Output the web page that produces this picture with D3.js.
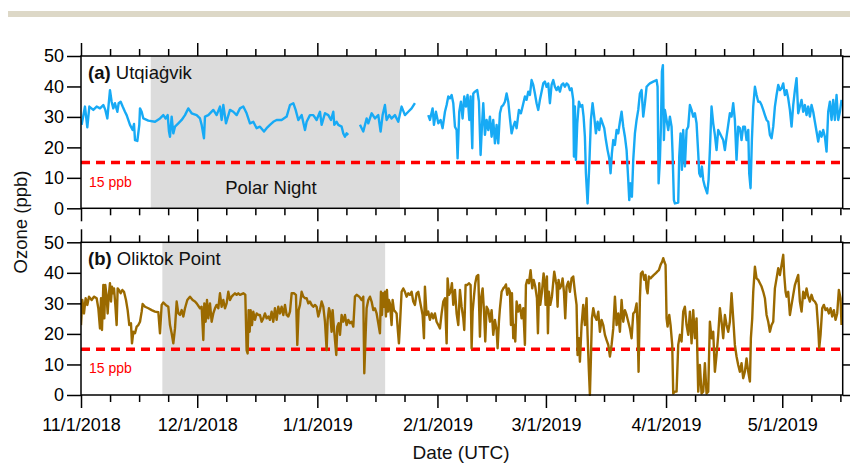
<!DOCTYPE html>
<html><head><meta charset="utf-8">
<script src="https://cdn.jsdelivr.net/npm/d3@7"></script>
<style>body{margin:0;background:#fff}svg{display:block}text{font-family:"Liberation Sans",Arial,sans-serif}</style>
</head><body><svg id="c" width="850" height="465"></svg>
<script>
// ---- data (days since 2018-11-01 00:00 UTC, ozone in ppb; null = gap) ----
const utqDay = [0.17,1.03,1.63,2.15,3.18,4.04,4.90,5.76,6.28,6.80,7.48,7.91,8.34,8.77,9.38,9.72,10.24,10.75,11.35,11.78,12.65,13.33,13.68,13.94,14.54,15.05,15.23,15.66,16.09,17.38,19.10,20.39,21.25,21.85,22.37,22.71,22.97,23.40,23.83,24.26,25.12,25.98,26.84,27.70,28.56,29.85,30.71,31.14,31.74,32.00,32.86,34.15,35.01,35.87,36.30,36.73,37.42,38.45,39.31,40.17,41.03,41.89,42.75,43.61,44.47,45.33,46.19,47.23,47.91,48.77,49.63,50.49,51.78,53.08,53.94,54.80,55.40,56.09,56.95,57.81,58.24,59.10,59.96,60.82,61.68,62.11,62.97,63.83,64.52,65.12,65.38,65.98,66.41,67.27,67.70,68.13,68.56,68.99,70.5,72.00,72.86,73.72,74.15,75.01,75.87,76.73,77.33,77.85,78.45,78.88,79.57,80.17,81.03,81.89,82.75,83.61,84.47,85.33,86.19,88.0,
89.63,90.06,90.75,91.10,91.61,92.22,92.82,93.33,93.94,94.37,94.80,95.23,95.66,96.09,96.52,96.95,97.20,97.63,98.06,98.49,98.92,99.35,99.78,100.22,100.56,100.99,101.25,101.68,102.28,102.71,103.14,103.48,103.83,104.26,104.69,105.12,105.55,105.98,106.41,106.84,107.27,107.70,108.13,108.56,108.99,109.42,109.85,110.28,110.71,111.14,111.57,112.00,112.43,113.03,113.55,113.98,114.58,115.01,115.44,115.87,116.30,116.73,117.16,117.59,118.02,118.45,118.88,119.31,119.74,120.17,120.60,121.03,121.46,121.89,122.32,122.75,123.18,123.61,124.04,124.47,124.90,125.33,125.76,126.19,126.62,127.05,127.23,127.48,127.74,128.09,128.52,128.95,129.38,129.72,130.06,130.32,130.75,131.18,131.61,132.04,132.47,132.90,133.33,133.76,134.19,134.62,135.05,135.48,135.91,136.34,136.69,137.03,137.38,137.81,138.24,138.67,139.10,139.53,139.96,140.39,140.82,141.25,141.51,141.85,142.19,142.54,142.97,143.40,143.83,144.26,144.69,145.12,145.55,145.98,146.41,146.84,147.70,148.56,148.82,149.08,149.42,149.68,149.94,150.19,150.45,150.71,151.14,151.57,152.00,152.43,152.69,153.03,153.29,154.15,154.41,154.75,155.10,155.44,155.87,156.30,156.73,157.16,157.59,158.02,158.45,158.88,159.31,159.57,159.91,160.26,160.60,161.03,161.63,161.98,162.32,162.75,163.18,163.61,164.04,164.47,164.90,165.33,165.76,166.19,166.62,167.05,167.48,167.91,168.34,168.77,169.20,169.63,170.06,170.49,170.92,171.35,171.78,172.22,172.47,172.82,173.16,173.51,173.94,174.37,174.80,175.23,175.66,176.09,176.52,176.95,177.38,177.81,178.24,178.67,179.10,179.53,179.96,180.39,180.82,181.25,181.68,182.11,182.54,182.97,183.40,183.83,184.26,184.69,185.12,185.55,185.98,186.41,186.84,187.27,187.70,188.13,188.56,188.99,189.42,189.85,190.28,190.71,191.14,191.57,192.00,192.43,192.86,193.29,193.72,194.15,194.58,195.01,195.44,195.87,196.30];
const utqPpb = [27.4,33.4,26.6,33.4,32.3,33.4,32.8,33.9,32.3,29.5,38.8,35.0,32.8,34.5,31.7,34.5,35.0,33.4,31.7,30.6,27.4,25.7,27.7,22.4,22.1,27.4,32.8,31.7,29.5,28.8,28.4,29.5,30.6,29.5,30.6,25.2,23.5,30.1,24.6,26.8,27.9,29.0,30.6,32.8,31.2,30.6,29.5,27.4,23.0,30.1,30.6,32.3,30.6,33.4,29.0,33.9,27.9,32.3,31.7,30.6,32.8,33.4,31.2,27.9,28.4,26.3,26.8,25.2,26.3,27.4,28.4,29.0,29.0,30.1,33.9,34.5,32.3,29.0,30.6,25.7,28.4,30.6,30.6,29.0,31.7,27.4,31.2,30.6,29.0,31.7,27.4,28.4,27.4,26.8,24.6,23.5,24.6,24.1,null,27.4,25.2,29.5,27.9,31.2,29.5,30.6,25.2,30.6,33.9,29.0,30.6,29.5,30.6,28.4,33.4,30.6,31.7,32.8,34.5,null,
30.6,29.0,32.8,27.4,31.7,27.9,29.0,26.3,31.7,33.9,36.7,36.1,37.2,34.5,26.8,25.7,16.4,31.7,35.0,29.5,36.7,33.4,37.2,29.0,36.7,19.7,37.7,38.3,38.8,35.0,17.5,26.8,34.5,24.1,29.0,25.7,30.1,23.5,29.0,21.3,27.4,21.3,31.2,33.4,33.9,35.0,37.7,35.0,29.5,24.6,26.8,28.4,26.3,32.3,31.2,33.4,36.7,35.6,38.3,37.2,42.1,40.5,37.7,34.5,32.3,35.6,38.3,41.0,41.6,39.9,41.0,34.5,40.5,42.1,39.9,38.8,39.9,38.3,40.5,41.0,39.9,41.0,40.5,38.8,39.4,35.6,17.0,33.4,15.9,27.9,35.0,33.4,33.9,30.1,23.5,11.5,1.6,13.7,29.0,34.5,30.1,24.6,28.4,25.7,29.5,27.9,26.3,22.4,19.1,16.4,11.5,18.1,22.4,20.8,25.7,24.6,28.4,31.7,26.8,23.5,19.1,9.3,2.7,8.2,3.8,15.9,24.6,29.0,32.3,37.7,38.8,30.1,34.5,39.9,40.5,41.0,41.6,42.1,39.9,8.2,15.9,26.8,44.9,47.0,22.4,32.3,29.0,25.7,30.1,26.8,18.1,2.7,1.6,1.9,17.0,24.6,12.6,25.7,13.7,25.7,26.8,33.9,32.3,30.1,31.2,27.9,18.1,11.5,10.4,13.7,9.3,7.1,4.9,9.3,19.1,33.4,27.9,24.1,19.1,25.7,24.6,23.5,22.4,19.1,23.5,27.4,31.2,30.1,34.5,29.0,15.9,26.8,26.3,22.4,26.8,26.8,22.4,25.7,11.5,6.6,22.4,33.4,39.9,37.2,35.0,35.0,33.9,32.3,30.6,29.0,28.4,24.1,23.0,26.8,33.4,37.2,40.5,38.8,39.4,41.0,37.2,38.8,36.1,32.3,26.8,33.9,38.8,42.7,31.2,33.4,35.6,31.7,33.9,30.6,33.4,30.1,33.9,31.7,28.4,25.2,21.9,25.2,23.5,25.7,23.5,18.6,31.7,35.0,29.0,35.6,29.0,37.2,29.0,31.7,35.6];

const oliDay = [0.00,0.34,0.77,1.20,1.63,2.06,2.75,3.35,4.04,4.47,4.90,5.16,5.42,5.76,6.02,6.28,6.62,6.88,7.14,7.48,7.74,8.00,8.26,8.52,8.86,9.20,9.46,9.81,10.24,10.67,11.10,11.61,12.04,12.47,12.90,13.16,13.51,13.94,14.37,14.80,15.23,15.66,15.91,16.52,17.38,18.24,19.10,19.96,20.39,20.82,21.25,21.85,22.54,22.97,23.40,23.83,24.26,24.69,25.12,25.55,25.98,26.41,26.84,27.44,28.13,28.82,29.42,29.85,30.71,31.14,31.57,31.83,32.17,32.52,32.86,33.29,33.72,34.15,34.58,35.01,35.44,35.87,36.30,36.73,37.16,37.59,38.02,38.45,38.88,39.31,39.74,40.17,40.60,41.03,41.89,42.41,42.75,43.01,43.27,43.53,43.78,44.13,44.47,44.90,45.33,45.76,46.19,46.62,47.05,47.48,47.91,48.34,48.77,49.20,49.63,50.06,50.49,50.92,51.35,51.78,52.22,52.65,53.08,53.51,53.94,54.37,54.97,55.48,55.83,56.17,56.52,56.95,57.38,57.81,58.24,58.67,59.10,59.53,59.96,60.39,60.82,61.25,61.68,62.11,62.54,62.97,63.40,63.66,64.00,64.26,64.69,64.95,65.29,65.63,65.89,66.15,66.49,66.84,67.27,67.70,68.13,68.56,68.99,69.42,69.85,70.28,70.71,71.14,71.83,72.43,72.86,73.12,73.46,73.72,74.15,74.58,75.01,75.44,75.87,76.30,76.73,77.16,77.42,77.68,77.94,78.19,78.45,78.71,78.97,79.23,79.48,79.74,80.17,80.43,80.77,81.12,81.46,81.81,82.06,82.32,82.75,83.18,83.61,84.04,84.47,84.90,85.33,85.76,86.19,86.62,87.05,
88.17,88.52,88.77,89.20,89.63,90.06,90.49,90.92,91.35,91.78,92.22,92.65,93.08,93.51,93.94,94.37,94.62,94.97,95.40,95.74,96.09,96.52,96.95,97.38,97.81,98.24,98.67,98.92,99.27,99.70,100.13,100.56,100.82,101.08,101.42,101.76,102.11,102.54,102.97,103.31,103.66,104.00,104.34,104.69,105.12,105.55,105.98,106.41,106.84,107.27,107.53,107.87,108.13,108.56,108.99,109.42,109.68,110.02,110.37,110.71,110.97,111.23,111.57,111.83,112.09,112.43,112.86,113.29,113.72,114.15,114.58,114.84,115.18,115.61,116.04,116.47,116.82,117.25,117.68,117.94,118.28,118.54,118.97,119.40,119.66,119.91,120.26,120.52,120.77,121.12,121.55,121.98,122.15,122.58,122.75,123.01,123.27,123.61,124.04,124.30,124.65,124.99,125.33,125.76,126.19,126.62,127.05,127.48,127.91,128.17,128.52,128.77,129.20,129.63,130.06,130.49,130.75,131.10,131.35,131.61,131.87,132.22,132.65,133.08,133.51,133.94,134.37,134.80,135.23,135.66,136.09,136.52,136.95,137.38,137.81,138.24,138.67,139.10,139.53,139.96,140.39,140.82,141.25,141.68,142.11,142.54,142.97,143.40,143.66,143.91,144.26,144.52,144.95,145.38,145.72,145.98,146.24,146.58,147.01,147.44,147.87,148.30,148.73,149.16,149.59,150.02,150.28,150.54,150.88,151.14,151.40,151.83,152.17,152.60,152.86,153.29,153.72,154.15,154.58,155.01,155.44,155.87,156.30,156.73,157.16,157.59,158.02,158.45,158.88,159.31,159.74,160.17,160.60,161.03,161.46,161.89,162.32,162.75,163.18,163.61,164.04,164.47,164.90,165.33,165.76,166.19,166.62,167.05,167.48,167.91,168.34,168.77,169.20,169.63,170.06,170.49,170.92,171.35,171.78,172.22,172.65,172.90,173.25,173.51,173.94,174.37,174.80,175.23,175.66,176.09,176.52,176.95,177.38,177.81,178.24,178.67,179.10,179.53,179.96,180.39,180.82,181.25,181.51,181.85,182.11,182.54,182.97,183.40,183.83,184.26,184.69,185.12,185.55,185.98,186.41,186.84,187.27,187.70,188.13,188.56,188.99,189.42,189.85,190.28,190.54,190.88,191.31,191.74,192.17,192.60,193.03,193.46,193.89,194.32,194.75,195.18,195.61,196.04,196.30];
const oliPpb = [22.9,31.1,26.7,31.7,29.5,32.2,31.1,32.2,31.7,28.4,21.8,31.7,21.3,36.0,25.1,36.0,32.2,26.7,32.2,36.6,30.6,35.5,33.3,34.9,29.5,22.9,34.9,34.4,33.3,34.4,33.8,31.1,27.8,22.9,23.5,16.9,20.7,20.2,22.4,22.9,24.0,27.3,29.8,28.9,28.4,27.8,27.3,27.1,20.2,29.5,30.3,29.5,28.9,22.9,20.2,16.9,21.8,30.6,26.7,26.2,27.8,25.7,28.4,31.1,32.2,31.1,30.6,30.0,28.4,28.9,18.0,30.0,24.0,31.1,25.1,30.0,24.0,26.7,28.4,29.5,28.4,33.3,28.9,31.1,28.4,30.0,33.8,31.1,32.2,32.8,33.3,32.8,33.3,32.8,33.3,32.8,14.7,13.6,27.8,20.7,27.8,22.9,27.3,24.6,26.7,26.2,26.2,24.0,25.1,26.7,25.1,25.7,24.6,27.3,24.0,28.4,24.6,28.9,26.7,28.9,26.2,29.5,26.2,25.7,27.3,33.3,33.3,32.8,16.4,27.8,29.5,33.8,32.2,31.7,31.7,30.0,30.6,29.5,28.9,29.5,28.9,25.7,27.8,30.6,28.9,24.0,14.7,24.6,28.4,27.3,20.7,27.8,21.8,16.9,13.1,22.4,23.5,19.7,26.2,24.0,26.2,22.9,24.6,23.5,24.0,22.4,32.2,32.8,32.2,31.1,32.2,7.1,19.7,28.4,31.1,32.2,30.6,27.8,28.4,26.7,23.5,20.2,33.8,26.2,33.3,28.9,33.8,25.7,34.4,27.3,31.1,30.0,22.9,31.1,27.8,27.3,26.7,20.7,16.9,22.9,33.8,34.9,33.8,32.2,33.3,32.8,33.8,30.6,29.5,33.3,33.8,
26.2,18.6,35.5,26.2,27.3,24.6,26.7,25.1,26.7,24.0,22.9,21.8,26.7,30.6,31.7,16.9,38.2,32.8,33.8,36.6,29.5,34.4,26.7,22.9,34.4,28.9,25.1,21.3,36.0,36.0,36.6,36.0,15.3,27.3,32.2,36.6,38.8,39.3,19.1,32.2,34.9,27.8,17.5,28.9,27.8,24.0,27.8,19.7,24.6,21.3,15.3,24.0,28.4,33.8,34.9,35.5,36.2,32.8,34.9,33.8,22.9,33.3,18.6,22.9,17.5,30.6,27.3,29.5,25.1,28.4,16.4,36.0,37.7,36.6,40.9,34.9,37.7,35.5,31.7,20.2,36.6,29.5,33.8,39.8,37.1,29.5,38.8,20.2,33.8,29.5,32.2,38.2,40.4,37.1,36.0,28.9,37.7,34.9,36.0,38.2,33.8,25.1,35.5,37.1,33.8,38.2,38.8,33.8,29.5,13.1,18.6,10.9,22.9,29.5,22.9,31.7,19.7,7.6,0.0,12.0,25.1,28.4,25.7,24.6,27.3,20.7,24.6,22.9,19.7,18.0,16.4,12.6,16.4,21.8,32.2,22.9,26.7,20.7,31.1,24.0,27.8,26.2,24.0,21.8,18.6,26.7,27.3,30.0,22.9,7.6,31.7,39.8,40.4,37.7,39.3,34.9,33.3,38.8,38.2,38.8,39.3,39.8,40.4,40.9,42.6,43.7,44.8,43.7,42.6,25.1,22.4,26.2,22.9,16.4,0.5,1.1,1.1,16.4,19.7,17.5,27.3,28.9,22.9,19.7,27.3,16.9,27.8,18.6,25.1,1.1,9.8,0.5,1.1,10.4,0.5,1.1,24.0,18.6,20.7,7.6,13.1,19.7,28.4,24.0,18.6,26.2,22.9,20.7,24.0,33.3,25.1,16.4,12.6,9.8,7.6,10.4,5.5,7.6,12.0,7.6,4.4,18.6,25.1,33.8,42.0,38.2,37.7,36.6,35.5,33.8,31.7,26.2,24.0,20.7,22.9,24.0,34.9,38.2,41.5,39.3,42.6,45.9,39.3,33.8,32.2,33.8,26.2,29.5,32.8,36.0,37.7,39.3,30.6,27.3,33.8,31.7,34.9,32.2,30.6,32.8,31.1,30.6,29.5,21.8,15.3,19.7,28.4,29.5,27.8,28.4,26.7,28.4,25.7,27.8,24.6,26.7,34.4,31.7,22.9];

const monthTicks = ["2018-11-01","2018-12-01","2019-01-01","2019-02-01","2019-03-01","2019-04-01","2019-05-01"];
const monthLabels = ["11/1/2018","12/1/2018","1/1/2019","2/1/2019","3/1/2019","4/1/2019","5/1/2019"];
const yTicks = [0,10,20,30,40,50];
const polarNightA = ["2018-11-19T00:00Z","2019-01-22T08:00Z"];
const polarNightB = ["2018-11-22T00:00Z","2019-01-18T12:00Z"];
const threshold = 15;
const panelTitles = [["(a)"," Utqiaġvik"],["(b)"," Oliktok Point"]];

// ---- drawing ----
const svg = d3.select("#c");
const t0 = Date.UTC(2018,10,1);
const toDate = d => new Date(t0 + d*864e5);
const x = d3.scaleUtc().domain([toDate(0), toDate(196.6)]).range([81, 842.7]);
const L = 81, R = 842.7;

svg.append("rect").attr("x",8).attr("y",11).attr("width",842).attr("height",6).attr("fill","#ddd8c7");

const minorTicks = [];
monthTicks.forEach(m => { const s = new Date(m+"T00:00Z"); [7.5,15,22.5].forEach(o => { const t = new Date(+s + o*864e5); if (t <= x.domain()[1]) minorTicks.push(t); }); });
const majorDates = monthTicks.map(m => new Date(m+"T00:00Z"));

function panel(cfg){
  const y = d3.scaleLinear().domain([0,50]).range([cfg.bottom, cfg.top]);
  const g = svg.append("g");
  const clipId = "clip"+cfg.id;
  svg.append("clipPath").attr("id",clipId).append("rect").attr("x",L).attr("y",cfg.top-1).attr("width",R-L).attr("height",cfg.bottom-cfg.top+2);
  g.append("rect").attr("x",x(new Date(cfg.night[0]))).attr("y",cfg.top)
    .attr("width",x(new Date(cfg.night[1]))-x(new Date(cfg.night[0]))).attr("height",cfg.bottom-cfg.top).attr("fill","#dcdcdc");
  g.append("line").attr("x1",L).attr("x2",R).attr("y1",y(threshold)).attr("y2",y(threshold))
    .attr("stroke","#ff0000").attr("stroke-width",3.5).attr("stroke-dasharray","9,6");
  const pts = cfg.days.map((d,i)=>({t:toDate(d), v:cfg.vals[i]}));
  const line = d3.line().defined(p=>p.v!==null).x(p=>x(p.t)).y(p=>y(p.v));
  g.append("path").datum(pts).attr("d",line).attr("fill","none").attr("stroke",cfg.color)
    .attr("stroke-width",2.4).attr("stroke-linejoin","round").attr("clip-path",`url(#${clipId})`);
  const ax = (sel)=>{ sel.select(".domain").remove(); sel.selectAll("line").attr("stroke","#000").attr("stroke-width",1.5); sel.selectAll("text").attr("font-size",18).attr("fill","#000").attr("font-family","Liberation Sans, Arial, sans-serif"); };
  g.append("g").attr("transform",`translate(${L},0)`).call(d3.axisLeft(y).tickValues(yTicks).tickSize(14).tickPadding(3)).call(ax);
  g.append("g").attr("transform",`translate(${R},0)`).call(d3.axisRight(y).tickValues(yTicks).tickSize(13).tickFormat("")).call(ax);
  g.append("g").attr("transform",`translate(0,${cfg.top})`).call(d3.axisTop(x).tickValues(majorDates).tickSize(13).tickFormat("")).call(ax);
  g.append("g").attr("transform",`translate(0,${cfg.top})`).call(d3.axisTop(x).tickValues(minorTicks).tickSize(7).tickFormat("")).call(ax);
  const bx = d3.axisBottom(x).tickValues(majorDates).tickSize(13).tickPadding(10)
     .tickFormat(cfg.labels ? ((d,i)=>monthLabels[i]) : "");
  g.append("g").attr("transform",`translate(0,${cfg.bottom})`).call(bx).call(ax);
  g.append("g").attr("transform",`translate(0,${cfg.bottom})`).call(d3.axisBottom(x).tickValues(minorTicks).tickSize(7).tickFormat("")).call(ax);
  g.append("rect").attr("x",L).attr("y",cfg.top).attr("width",R-L).attr("height",cfg.bottom-cfg.top)
    .attr("fill","none").attr("stroke","#000").attr("stroke-width",1.5);
  const tt = g.append("text").attr("x",88).attr("y",cfg.top+23).attr("font-size",18.5).attr("fill","#111");
  tt.append("tspan").attr("font-weight","bold").text(cfg.title[0]);
  tt.append("tspan").text(cfg.title[1]);
  g.append("text").attr("x",89).attr("y",y(threshold)+24).attr("font-size",14).attr("fill","#ff0000").text(threshold+" ppb");
  if (cfg.polarLabel) g.append("text").attr("x",271).attr("y",cfg.top+138).attr("text-anchor","middle").attr("font-size",18.5).attr("fill","#111").text("Polar Night");
}

panel({id:"a", top:56, bottom:208.3, days:utqDay, vals:utqPpb, color:"#17aaf5", night:polarNightA, title:panelTitles[0], polarLabel:true, labels:false});
panel({id:"b", top:242.3, bottom:395, days:oliDay, vals:oliPpb, color:"#9b6a00", night:polarNightB, title:panelTitles[1], polarLabel:false, labels:true});

svg.append("text").attr("transform","translate(20,222) rotate(-90)").attr("text-anchor","middle").attr("dominant-baseline","central")
  .attr("font-size",18.5).attr("fill","#111").text("Ozone (ppb)");
svg.append("text").attr("x",461).attr("y",459).attr("text-anchor","middle").attr("font-size",19).attr("fill","#111").text("Date (UTC)");
</script></body></html>
